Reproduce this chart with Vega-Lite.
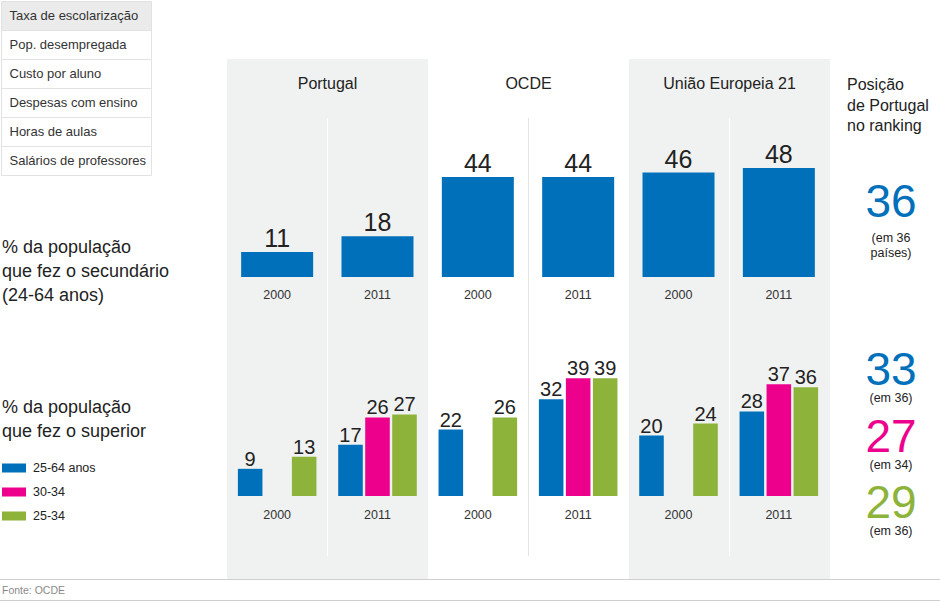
{
  "$schema": "https://vega.github.io/schema/vega-lite/v6.json",
  "width": 940,
  "height": 605,
  "autosize": {"type": "none"},
  "padding": 0,
  "background": "#ffffff",
  "datasets": {
    "paises": [{"pais": "Portugal"}, {"pais": "OCDE"}, {"pais": "União Europeia 21"}],
    "secundario": [
      {"pais": "Portugal", "ano": "2000", "valor": 11},
      {"pais": "Portugal", "ano": "2011", "valor": 18},
      {"pais": "OCDE", "ano": "2000", "valor": 44},
      {"pais": "OCDE", "ano": "2011", "valor": 44},
      {"pais": "União Europeia 21", "ano": "2000", "valor": 46},
      {"pais": "União Europeia 21", "ano": "2011", "valor": 48}
    ],
    "superior": [
      {"pais": "Portugal", "ano": "2000", "grupo": "25-64 anos", "valor": 9},
      {"pais": "Portugal", "ano": "2000", "grupo": "25-34", "valor": 13},
      {"pais": "Portugal", "ano": "2011", "grupo": "25-64 anos", "valor": 17},
      {"pais": "Portugal", "ano": "2011", "grupo": "30-34", "valor": 26},
      {"pais": "Portugal", "ano": "2011", "grupo": "25-34", "valor": 27},
      {"pais": "OCDE", "ano": "2000", "grupo": "25-64 anos", "valor": 22},
      {"pais": "OCDE", "ano": "2000", "grupo": "25-34", "valor": 26},
      {"pais": "OCDE", "ano": "2011", "grupo": "25-64 anos", "valor": 32},
      {"pais": "OCDE", "ano": "2011", "grupo": "30-34", "valor": 39},
      {"pais": "OCDE", "ano": "2011", "grupo": "25-34", "valor": 39},
      {"pais": "União Europeia 21", "ano": "2000", "grupo": "25-64 anos", "valor": 20},
      {"pais": "União Europeia 21", "ano": "2000", "grupo": "25-34", "valor": 24},
      {"pais": "União Europeia 21", "ano": "2011", "grupo": "25-64 anos", "valor": 28},
      {"pais": "União Europeia 21", "ano": "2011", "grupo": "30-34", "valor": 37},
      {"pais": "União Europeia 21", "ano": "2011", "grupo": "25-34", "valor": 36}
    ],
    "menu": [
      {"item": "Taxa de escolarização"},
      {"item": "Pop. desempregada"},
      {"item": "Custo por aluno"},
      {"item": "Despesas com ensino"},
      {"item": "Horas de aulas"},
      {"item": "Salários de professores"}
    ],
    "rotulos": [
      {"indicador": "secundário", "texto": "% da população\nque fez o secundário\n(24-64 anos)"},
      {"indicador": "superior", "texto": "% da população\nque fez o superior"}
    ],
    "ranking": [
      {"indicador": "secundário", "grupo": "24-64 anos", "posicao": 36, "nota": "(em 36\npaíses)"},
      {"indicador": "superior", "grupo": "25-64 anos", "posicao": 33, "nota": "(em 36)"},
      {"indicador": "superior", "grupo": "30-34", "posicao": 27, "nota": "(em 34)"},
      {"indicador": "superior", "grupo": "25-34", "posicao": 29, "nota": "(em 36)"}
    ],
    "cabecalho": [{"texto": "Posição\nde Portugal\nno ranking"}],
    "fonte": [{"texto": "Fonte: OCDE"}],
    "rodape": [{"linha": "rodapé"}, {"linha": "fim"}]
  },
  "layer": [
    {
      "data": {"name": "paises"},
      "mark": {"type": "rect"},
      "encoding": {
        "x": {"field": "pais", "type": "nominal", "sort": null,
              "scale": {"type": "band", "domain": ["Portugal", "OCDE", "União Europeia 21"], "range": [227, 830], "paddingInner": 0, "paddingOuter": 0},
              "axis": {"orient": "top", "title": null, "domain": false, "ticks": false, "tickSize": 0, "labelPadding": 0, "offset": -88, "labelFontSize": 16, "labelColor": "#222222", "labelBaseline": "alphabetic", "labelAngle": 0, "labelLimit": 0, "labelOverlap": false, "grid": false}},
        "y": {"datum": "painel", "type": "nominal", "scale": {"type": "band", "range": [59, 579], "paddingInner": 0, "paddingOuter": 0}, "axis": null},
        "fill": {"field": "pais", "type": "nominal", "scale": {"domain": ["Portugal", "OCDE", "União Europeia 21"], "range": ["#f0f2f1", "#ffffff", "#f0f2f1"]}, "legend": null}
      }
    },
    {
      "data": {"name": "paises"},
      "mark": {"type": "bar", "width": 1},
      "encoding": {
        "x": {"field": "pais", "type": "nominal", "sort": null,
              "scale": {"type": "band", "domain": ["Portugal", "OCDE", "União Europeia 21"], "range": [227, 830], "paddingInner": 0, "paddingOuter": 0}, "axis": null},
        "y": {"datum": "divisória", "type": "nominal", "scale": {"type": "band", "range": [118, 556], "paddingInner": 0, "paddingOuter": 0}, "axis": null},
        "color": {"condition": {"test": "datum.pais === 'OCDE'", "value": "#e4e4e4"}, "value": "#ffffff"}
      }
    },
    {
      "data": {"name": "secundario"},
      "transform": [{"calculate": "datum.pais + ' ' + datum.ano", "as": "coluna"}],
      "encoding": {
        "x": {"field": "coluna", "type": "nominal", "sort": null,
              "scale": {"type": "band", "domain": ["Portugal 2000", "Portugal 2011", "OCDE 2000", "OCDE 2011", "União Europeia 21 2000", "União Europeia 21 2011"], "range": [227, 829], "paddingInner": 0.2825, "paddingOuter": 0.141}, "axis": null}
      },
      "layer": [
        {
          "mark": {"type": "bar", "color": "#0070bb"},
          "encoding": {
            "y": {"field": "valor", "type": "quantitative", "scale": {"domain": [0, 50], "range": [277, 163.5], "nice": false, "zero": true}, "axis": null}
          }
        },
        {
          "mark": {"type": "text", "fontSize": 25, "dy": -5, "baseline": "alphabetic", "color": "#222222"},
          "encoding": {
            "y": {"field": "valor", "type": "quantitative", "scale": {"domain": [0, 50], "range": [277, 163.5], "nice": false, "zero": true}, "axis": null},
            "text": {"field": "valor", "type": "quantitative"}
          }
        },
        {
          "mark": {"type": "text", "fontSize": 12.5, "dy": 18, "baseline": "middle", "color": "#333333"},
          "encoding": {
            "y": {"datum": 0, "type": "quantitative", "scale": {"domain": [0, 50], "range": [277, 163.5], "nice": false, "zero": true}, "axis": null},
            "text": {"field": "ano", "type": "nominal"}
          }
        }
      ]
    },
    {
      "layer": [
        {
          "data": {"name": "superior"},
          "transform": [{"calculate": "datum.pais + ' ' + datum.ano", "as": "coluna"}],
          "mark": {"type": "bar"},
          "encoding": {
            "x": {"field": "coluna", "type": "nominal", "sort": null,
                  "scale": {"type": "band", "domain": ["Portugal 2000", "Portugal 2011", "OCDE 2000", "OCDE 2011", "União Europeia 21 2000", "União Europeia 21 2011"], "range": [227, 829], "paddingInner": 0, "paddingOuter": 0}, "axis": null},
            "xOffset": {"field": "grupo", "type": "nominal", "sort": null, "scale": {"type": "band", "domain": ["25-64 anos", "30-34", "25-34"], "paddingInner": 0.09, "paddingOuter": 0.403}},
            "y": {"field": "valor", "type": "quantitative", "scale": {"domain": [0, 40], "range": [496, 375.2], "nice": false, "zero": true}, "axis": null},
            "color": {"field": "grupo", "type": "nominal", "sort": null,
                      "scale": {"domain": ["25-64 anos", "30-34", "25-34"], "range": ["#0070bb", "#ec008c", "#8db33b"]},
                      "legend": {"orient": "none", "legendX": 2, "legendY": 456, "title": null, "direction": "vertical", "symbolType": "M-1,-0.375H1V0.375H-1Z", "symbolSize": 576, "symbolStrokeWidth": 0, "symbolOpacity": 1, "labelFontSize": 12.5, "labelColor": "#222222", "labelOffset": 7, "rowPadding": 5, "padding": 0}}
          }
        },
        {
          "data": {"name": "superior"},
          "transform": [{"calculate": "datum.pais + ' ' + datum.ano", "as": "coluna"}],
          "mark": {"type": "text", "fontSize": 20, "dy": -3, "baseline": "alphabetic", "color": "#222222"},
          "encoding": {
            "x": {"field": "coluna", "type": "nominal", "sort": null,
                  "scale": {"type": "band", "domain": ["Portugal 2000", "Portugal 2011", "OCDE 2000", "OCDE 2011", "União Europeia 21 2000", "União Europeia 21 2011"], "range": [227, 829], "paddingInner": 0, "paddingOuter": 0}, "axis": null},
            "xOffset": {"field": "grupo", "type": "nominal", "sort": null, "scale": {"type": "band", "domain": ["25-64 anos", "30-34", "25-34"], "paddingInner": 0.09, "paddingOuter": 0.403}},
            "y": {"field": "valor", "type": "quantitative", "scale": {"domain": [0, 40], "range": [496, 375.2], "nice": false, "zero": true}, "axis": null},
            "text": {"field": "valor", "type": "quantitative"}
          }
        },
        {
          "data": {"name": "secundario"},
          "transform": [{"calculate": "datum.pais + ' ' + datum.ano", "as": "coluna"}],
          "mark": {"type": "text", "fontSize": 12.5, "dy": 19, "baseline": "middle", "color": "#333333"},
          "encoding": {
            "x": {"field": "coluna", "type": "nominal", "sort": null,
                  "scale": {"type": "band", "domain": ["Portugal 2000", "Portugal 2011", "OCDE 2000", "OCDE 2011", "União Europeia 21 2000", "União Europeia 21 2011"], "range": [227, 829], "paddingInner": 0, "paddingOuter": 0}, "axis": null},
            "y": {"datum": 0, "type": "quantitative", "scale": {"domain": [0, 40], "range": [496, 375.2], "nice": false, "zero": true}, "axis": null},
            "text": {"field": "ano", "type": "nominal"}
          }
        }
      ]
    },
    {
      "data": {"name": "rotulos"},
      "mark": {"type": "text", "align": "left", "baseline": "alphabetic", "fontSize": 18, "lineHeight": 24, "lineBreak": "\n", "color": "#222222"},
      "encoding": {
        "x": {"datum": "rótulos", "type": "nominal", "scale": {"type": "point", "range": [2, 2], "padding": 0}, "axis": null},
        "y": {"field": "indicador", "type": "nominal", "sort": null, "scale": {"type": "point", "domain": ["secundário", "superior"], "range": [253, 413], "padding": 0}, "axis": null},
        "text": {"field": "texto", "type": "nominal"}
      }
    },
    {
      "data": {"name": "menu"},
      "encoding": {
        "x": {"datum": "menu", "type": "nominal", "scale": {"type": "band", "range": [1.5, 151.5], "paddingInner": 0, "paddingOuter": 0}, "axis": null},
        "y": {"field": "item", "type": "nominal", "sort": null, "scale": {"type": "band", "domain": ["Taxa de escolarização", "Pop. desempregada", "Custo por aluno", "Despesas com ensino", "Horas de aulas", "Salários de professores"], "range": [1.5, 175.5], "paddingInner": 0, "paddingOuter": 0}, "axis": null}
      },
      "layer": [
        {
          "mark": {"type": "rect", "stroke": "#e2e2e2", "strokeWidth": 1},
          "encoding": {
            "fill": {"condition": {"test": "datum.item === 'Taxa de escolarização'", "value": "#ebebeb"}, "value": "#ffffff"}
          }
        },
        {
          "mark": {"type": "text", "align": "left", "baseline": "middle", "dx": 8, "fontSize": 13, "color": "#333333"},
          "encoding": {
            "x": {"datum": "menu", "type": "nominal", "bandPosition": 0, "scale": {"type": "band", "range": [1.5, 151.5], "paddingInner": 0, "paddingOuter": 0}, "axis": null},
            "text": {"field": "item", "type": "nominal"}
          }
        }
      ]
    },
    {
      "data": {"name": "cabecalho"},
      "mark": {"type": "text", "align": "left", "baseline": "alphabetic", "fontSize": 16, "lineHeight": 20.5, "lineBreak": "\n", "color": "#222222"},
      "encoding": {
        "x": {"datum": "ranking", "type": "nominal", "bandPosition": 0, "scale": {"type": "band", "range": [847, 935], "paddingInner": 0, "paddingOuter": 0}, "axis": null},
        "y": {"datum": "cabeçalho", "type": "nominal", "scale": {"type": "point", "range": [90, 90], "padding": 0}, "axis": null},
        "text": {"field": "texto", "type": "nominal"}
      }
    },
    {
      "data": {"name": "ranking"},
      "transform": [{"filter": "datum.indicador === 'secundário'"}],
      "encoding": {
        "x": {"datum": "ranking", "type": "nominal", "scale": {"type": "band", "range": [847, 935], "paddingInner": 0, "paddingOuter": 0}, "axis": null},
        "y": {"field": "indicador", "type": "nominal", "scale": {"type": "point", "domain": ["secundário"], "range": [217, 217], "padding": 0}, "axis": null}
      },
      "layer": [
        {"mark": {"type": "text", "fontSize": 46, "baseline": "alphabetic", "color": "#0070bb"}, "encoding": {"text": {"field": "posicao", "type": "quantitative"}}},
        {"mark": {"type": "text", "fontSize": 12.5, "baseline": "alphabetic", "dy": 25, "lineHeight": 15, "lineBreak": "\n", "color": "#222222"}, "encoding": {"text": {"field": "nota", "type": "nominal"}}}
      ]
    },
    {
      "data": {"name": "ranking"},
      "transform": [{"filter": "datum.indicador === 'superior'"}],
      "encoding": {
        "x": {"datum": "ranking", "type": "nominal", "scale": {"type": "band", "range": [847, 935], "paddingInner": 0, "paddingOuter": 0}, "axis": null},
        "y": {"field": "grupo", "type": "nominal", "sort": null, "scale": {"type": "point", "domain": ["25-64 anos", "30-34", "25-34"], "range": [385, 518], "padding": 0}, "axis": null}
      },
      "layer": [
        {"mark": {"type": "text", "fontSize": 46, "baseline": "alphabetic"}, "encoding": {"text": {"field": "posicao", "type": "quantitative"}, "color": {"field": "grupo", "type": "nominal", "sort": null, "scale": {"domain": ["25-64 anos", "30-34", "25-34"], "range": ["#0070bb", "#ec008c", "#8db33b"]}}}},
        {"mark": {"type": "text", "fontSize": 12.5, "baseline": "alphabetic", "dy": 17, "color": "#222222"}, "encoding": {"text": {"field": "nota", "type": "nominal"}}}
      ]
    },
    {
      "data": {"name": "fonte"},
      "mark": {"type": "text", "align": "left", "baseline": "middle", "fontSize": 10.5, "color": "#8a8a8a"},
      "encoding": {
        "x": {"datum": "fonte", "type": "nominal", "scale": {"type": "point", "range": [2, 2], "padding": 0}, "axis": null},
        "y": {"datum": "fonte", "type": "nominal", "scale": {"type": "point", "range": [591, 591], "padding": 0}, "axis": null},
        "text": {"field": "texto", "type": "nominal"}
      }
    },
    {
      "mark": {"type": "rule", "color": "#e3e3e3", "strokeWidth": 1},
      "encoding": {
        "y": {"datum": "topo", "type": "nominal", "scale": {"type": "point", "range": [1.5, 1.5], "padding": 0}, "axis": null}
      }
    },
    {
      "data": {"name": "rodape"},
      "mark": {"type": "rule", "color": "#cfcfcf", "strokeWidth": 1.2},
      "encoding": {
        "y": {"field": "linha", "type": "nominal", "sort": null, "scale": {"type": "point", "domain": ["rodapé", "fim"], "range": [579.5, 600.5], "padding": 0}, "axis": null}
      }
    }
  ],
  "resolve": {"scale": {"x": "independent", "y": "independent"}},
  "config": {
    "font": "Liberation Sans",
    "view": {"stroke": null},
    "text": {"font": "Liberation Sans"},
    "legend": {"labelFont": "Liberation Sans"},
    "axis": {"labelFont": "Liberation Sans"}
  }
}
